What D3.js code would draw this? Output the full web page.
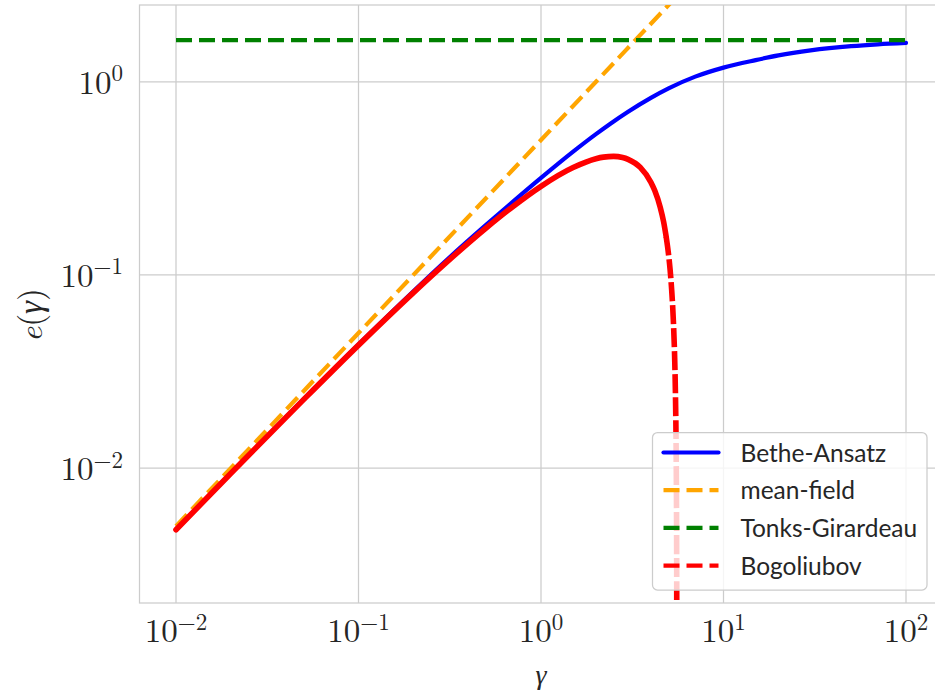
<!DOCTYPE html>
<html>
<head>
<meta charset="utf-8">
<script src="https://cdn.jsdelivr.net/npm/d3@7"></script>
<style>
  body { margin: 0; background: #fff; }
  svg { display: block; }
</style>
</head>
<body>
<svg id="chart" width="935" height="693"></svg>
<script>
// values
const baGamma = [0.01, 0.02, 0.05, 0.1, 0.2, 0.3, 0.5, 0.7, 1, 1.5, 2, 2.4, 3, 4, 5, 7, 10, 15, 20, 30, 50, 70, 100];
const baE = [0.00479, 0.0094, 0.0227, 0.0436, 0.0823, 0.118, 0.1815, 0.239, 0.318, 0.435, 0.536, 0.607, 0.700, 0.826, 0.925, 1.064, 1.185, 1.296, 1.371, 1.455, 1.530, 1.564, 1.59];

const mfGamma = [0.01, 0.1, 1, 10, 100];
const mfE = [0.005, 0.05, 0.5, 5, 50];

const tgGamma = [0.01, 100];
const tgE = [1.645, 1.645];

const bgGamma = [0.01, 0.02, 0.05, 0.1, 0.2, 0.3, 0.5, 0.7, 1, 1.5, 2, 2.2, 2.5, 2.8, 3, 3.5, 4, 4.2, 4.5, 4.7, 4.85, 5, 5.1, 5.2, 5.3, 5.4, 5.45, 5.5, 5.52, 5.53, 5.54, 5.545];
const bgE = [0.00479, 0.0094, 0.0226, 0.0433, 0.081, 0.1151, 0.175, 0.2257, 0.2878, 0.360, 0.400, 0.4076, 0.411, 0.4058, 0.397, 0.3605, 0.3023, 0.2735, 0.2243, 0.1878, 0.158, 0.1275, 0.106, 0.0837, 0.0607, 0.0372, 0.0251, 0.0128, 0.0079, 0.0055, 0.0029, 0.0017];

const xTickExps = [-2, -1, 0, 1, 2];
const yTickExps = [-2, -1, 0];
const legendLabels = ["Bethe-Ansatz", "mean-field", "Tonks-Girardeau", "Bogoliubov"];

const svg = d3.select("#chart");

const plot = { left: 139.5, right: 942.5, top: 5, bottom: 603 };
const x = d3.scaleLog().domain([Math.pow(10, -2.2), Math.pow(10, 2.2)]).range([plot.left, plot.right]);
const y = d3.scaleLog().domain([2e-3, 2.5]).range([plot.bottom, plot.top]);

const gridColor = "#cccccc";
const textColor = "#262626";
const mathFont = "'Latin Modern Roman', 'CMU Serif', 'Liberation Serif', serif";

// grid
svg.append("g")
    .selectAll("line")
    .data(xTickExps)
    .join("line")
    .attr("x1", d => x(Math.pow(10, d))).attr("x2", d => x(Math.pow(10, d)))
    .attr("y1", plot.top).attr("y2", plot.bottom)
    .attr("stroke", gridColor).attr("stroke-width", 1.25);

svg.append("g")
    .selectAll("line")
    .data(yTickExps)
    .join("line")
    .attr("x1", plot.left).attr("x2", plot.right)
    .attr("y1", d => y(Math.pow(10, d))).attr("y2", d => y(Math.pow(10, d)))
    .attr("stroke", gridColor).attr("stroke-width", 1.25);

// frame
svg.append("rect")
    .attr("x", plot.left).attr("y", plot.top)
    .attr("width", plot.right - plot.left).attr("height", plot.bottom - plot.top)
    .attr("fill", "none").attr("stroke", gridColor).attr("stroke-width", 1.25);

svg.append("clipPath").attr("id", "clip")
    .append("rect")
    .attr("x", plot.left).attr("y", plot.top)
    .attr("width", plot.right - plot.left).attr("height", plot.bottom - plot.top);

const line = d3.line()
    .x(d => x(d[0]))
    .y(d => y(d[1]))
    .curve(d3.curveMonotoneX);

const zip = (a, b) => a.map((v, i) => [v, b[i]]);

const lines = svg.append("g").attr("clip-path", "url(#clip)");

lines.append("path")
    .datum(zip(baGamma, baE))
    .attr("fill", "none").attr("stroke", "blue").attr("stroke-width", 4.2)
    .attr("stroke-linecap", "round").attr("stroke-linejoin", "round")
    .attr("d", line);

lines.append("path")
    .datum(zip(mfGamma, mfE))
    .attr("fill", "none").attr("stroke", "orange").attr("stroke-width", 4.2)
    .attr("stroke-dasharray", "16,7")
    .attr("d", line);

lines.append("path")
    .datum(zip(tgGamma, tgE))
    .attr("fill", "none").attr("stroke", "green").attr("stroke-width", 4.2)
    .attr("stroke-dasharray", "16,7")
    .attr("d", line);

// Bogoliubov: looks solid where the curve is flat, dashed on the steep drop
const bg = zip(bgGamma, bgE);
lines.append("path")
    .datum(bg.filter(d => d[0] <= 4.85))
    .attr("fill", "none").attr("stroke", "red").attr("stroke-width", 5.6)
    .attr("stroke-linecap", "round").attr("stroke-linejoin", "round")
    .attr("d", line);

lines.append("path")
    .datum(bg.filter(d => d[0] >= 4.85))
    .attr("fill", "none").attr("stroke", "red").attr("stroke-width", 5.6)
    .attr("stroke-dasharray", "19,4")
    .attr("d", line);

// tick labels 10^n
function powerLabel(g, exp) {
    const t = g.append("text")
        .attr("fill", textColor)
        .style("font-family", mathFont)
        .style("font-size", "33px");
    t.append("tspan").text("10");
    t.append("tspan")
        .attr("dy", -12.5)
        .style("font-size", "23px")
        .text(exp < 0 ? "\u2212" + (-exp) : String(exp));
    return t;
}

xTickExps.forEach(e => {
    const g = svg.append("g").attr("transform", `translate(${x(Math.pow(10, e))},642)`);
    powerLabel(g, e).attr("text-anchor", "middle");
});

yTickExps.forEach(e => {
    const g = svg.append("g").attr("transform", `translate(123,${y(Math.pow(10, e)) + 12})`);
    powerLabel(g, e).attr("text-anchor", "end");
});

// axis labels
svg.append("text")
    .attr("x", x(1)).attr("y", 684)
    .attr("text-anchor", "middle")
    .attr("fill", textColor)
    .style("font-family", mathFont).style("font-size", "28px").style("font-style", "italic")
    .text("\u03b3");

const yl = svg.append("text")
    .attr("transform", `translate(42,${(plot.top + plot.bottom) / 2 + 11}) rotate(-90)`)
    .attr("text-anchor", "middle")
    .attr("fill", textColor)
    .style("font-family", mathFont).style("font-size", "33px");
yl.append("tspan").style("font-style", "italic").text("e");
yl.append("tspan").text("(");
yl.append("tspan").style("font-style", "italic").text("\u03b3");
yl.append("tspan").text(")");

// legend
const legend = svg.append("g").attr("transform", "translate(652.5,432.5)");
legend.append("rect")
    .attr("width", 274.5).attr("height", 157.5)
    .attr("rx", 5)
    .attr("fill", "white").attr("fill-opacity", 0.8)
    .attr("stroke", gridColor).attr("stroke-width", 1.25);

const legendStyles = [
    { color: "blue", dash: null, width: 4.2, cap: "round" },
    { color: "orange", dash: "16,7", width: 4.2, cap: "butt" },
    { color: "green", dash: "16,7", width: 4.2, cap: "butt" },
    { color: "red", dash: "16,7", width: 4.2, cap: "butt" }
];

legendLabels.forEach((label, i) => {
    const ry = 20 + i * 37.7;
    const s = legendStyles[i];
    legend.append("line")
        .attr("x1", 11).attr("x2", 66)
        .attr("y1", ry).attr("y2", ry)
        .attr("stroke", s.color).attr("stroke-width", s.width)
        .attr("stroke-linecap", s.cap)
        .attr("stroke-dasharray", s.dash);
    legend.append("text")
        .attr("x", 88).attr("y", ry + 9)
        .attr("fill", textColor)
        .style("font-family", "Lato, sans-serif").style("font-size", "24.5px")
        .text(label);
});
</script>
</body>
</html>
